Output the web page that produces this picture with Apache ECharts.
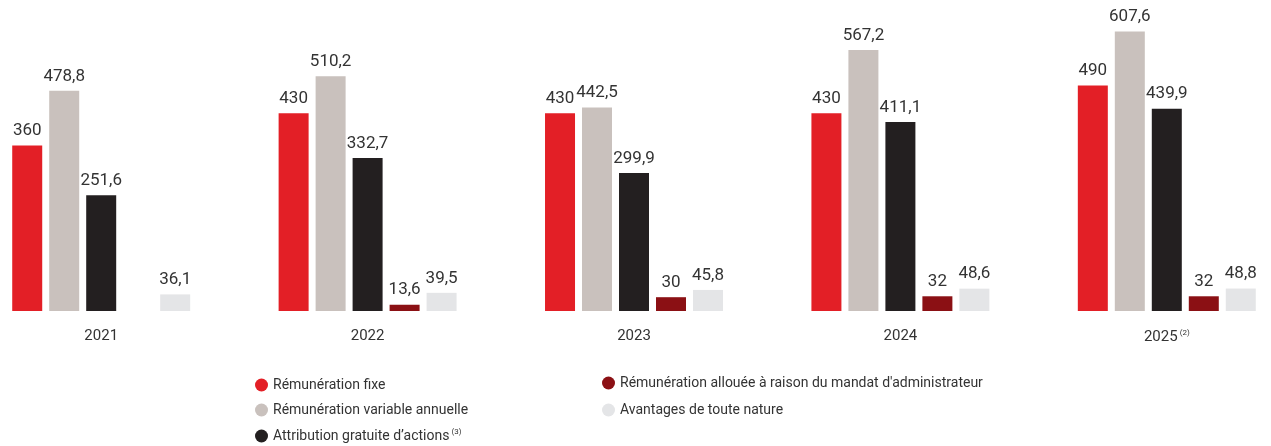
<!DOCTYPE html>
<html><head><meta charset="utf-8">
<script src="https://cdn.jsdelivr.net/npm/echarts@6/dist/echarts.min.js"></script>
<style>html,body{margin:0;padding:0;background:#fff;overflow:hidden;width:1271px;height:446px;position:relative}#c{position:absolute;left:-32px;top:0;width:1332px;height:446px}</style>
</head><body><div id="c"></div>
<script>
const categories = ['2021', '2022', '2023', '2024', '2025'];
const categoryNotes = ['', '', '', '', '(2)'];
const fixe = [360, 430, 430, 430, 490];
const variable = [478.8, 510.2, 442.5, 567.2, 607.6];
const actions = [251.6, 332.7, 299.9, 411.1, 439.9];
const mandat = [null, 13.6, 30, 32, 32];
const avantages = [36.1, 39.5, 45.8, 48.6, 48.8];
const seriesNames = ['Rémunération fixe', 'Rémunération variable annuelle', 'Attribution gratuite d’actions', "Rémunération allouée à raison du mandat d'administrateur", 'Avantages de toute nature'];
const seriesNotes = ['', '', '(3)', '', ''];
const colors = ['#e31f26', '#c9c1bd', '#231f20', '#8b1014', '#e4e5e7'];
const seriesData = [fixe, variable, actions, mandat, avantages];

const FONT = 'Roboto';
const OFF = 32; // chart canvas is shifted left by this many pixels
const fmt = v => String(v).replace('.', ',');

const chart = echarts.init(document.getElementById('c'), null, {renderer: 'canvas'});
const legendFormatter = name => {
  const i = seriesNames.indexOf(name);
  return seriesNotes[i] ? name + '{sup|' + seriesNotes[i] + '}' : name;
};
const legendText = {color: '#333', fontFamily: FONT, fontSize: 14,
  rich: {sup: {fontSize: 8, verticalAlign: 'top', padding: [0, 0, 8, 2], color: '#333', fontFamily: FONT}}};
const legendPos = [[250, 373], [250, 398], [250, 423], [597, 371], [597, 398]];
chart.setOption({
  animation: false,
  color: colors,
  grid: {left: 0, right: 0, top: 12, bottom: 135, containLabel: false},
  legend: seriesNames.map((n, i) => ({
    data: [n], orient: 'horizontal', left: legendPos[i][0] + OFF, top: legendPos[i][1],
    icon: 'circle', itemWidth: 13, itemHeight: 13, itemGap: 5,
    textStyle: legendText, formatter: legendFormatter, selectedMode: false
  })),
  xAxis: {
    type: 'category', data: categories,
    axisLine: {show: false}, axisTick: {show: false},
    axisLabel: {margin: 18, color: '#333', fontFamily: FONT, fontSize: 15,
      formatter: (v, i) => categoryNotes[i] ? v + '{sup|' + categoryNotes[i] + '}' : v,
      rich: {sup: {fontSize: 8, verticalAlign: 'top', padding: [0, 0, 8, 2], color: '#333', fontFamily: FONT}}}
  },
  yAxis: {type: 'value', min: 0, max: 650, show: false, splitLine: {show: false}},
  series: seriesData.map((d, i) => ({
    name: seriesNames[i], type: 'bar', data: d,
    barWidth: 30, barGap: '23.3%',
    itemStyle: {color: colors[i]},
    label: {show: true, position: 'top', distance: 6, color: '#333', fontFamily: FONT, fontSize: 17,
      formatter: p => fmt(p.value)}
  }))
});
</script></body></html>
